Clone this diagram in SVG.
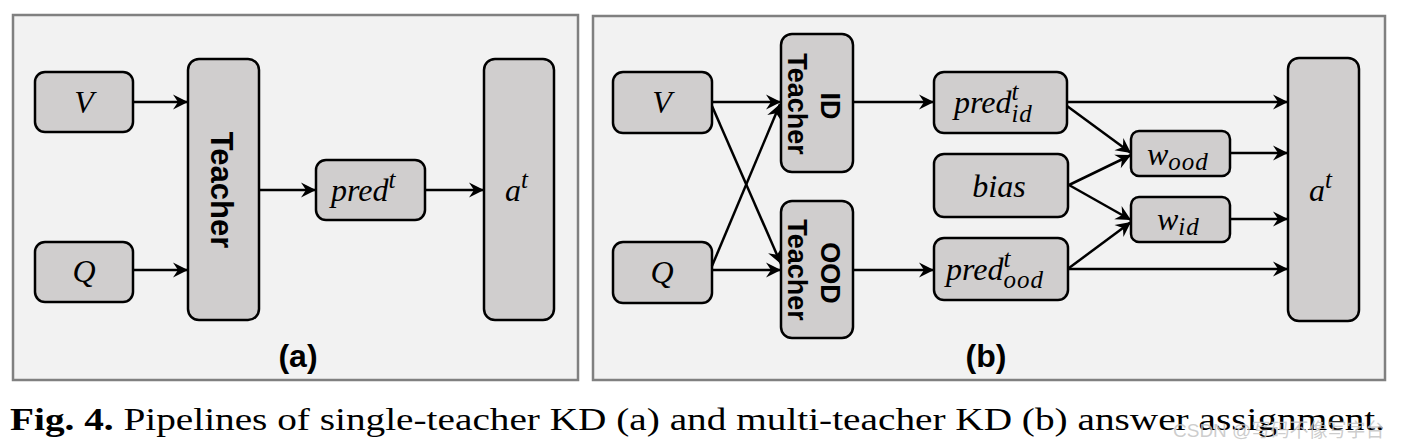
<svg xmlns="http://www.w3.org/2000/svg" width="1401" height="447" viewBox="0 0 1401 447">
<style>
.panel{fill:#f2f2f2;stroke:#808080;stroke-width:2.5}
.node{fill:#d0cece;stroke:#000;stroke-width:2.5}
.math{font-family:"Liberation Serif",serif;font-style:italic;font-size:32px;fill:#000}
.sub{font-size:25px;letter-spacing:1px}
.tl{font-family:"Liberation Sans",Arial,sans-serif;font-weight:bold;fill:#000;text-anchor:middle}
.edge{stroke:#000;stroke-width:2.5;fill:none;marker-end:url(#ah)}
.cap{font-family:"Liberation Serif",serif;font-size:32px;fill:#000}
</style>
<defs>
<marker id="ah" viewBox="-16 -8 18 16" refX="0" refY="0" markerWidth="18" markerHeight="16" orient="auto" markerUnits="userSpaceOnUse">
<path d="M0,0 L-15,-7.5 L-10,0 L-15,7.5 Z" fill="#000"/>
</marker>
</defs>
<rect width="1401" height="447" fill="#fff"/>

<g id="panel-a">
<rect class="panel" x="13" y="15" width="565" height="365"/>
<text class="tl" x="298" y="367" font-size="32">(a)</text>
</g>
<g id="panel-b">
<rect class="panel" x="593" y="16" width="792" height="364"/>
<text class="tl" x="986" y="367" font-size="32">(b)</text>
</g>

<g id="a-V"><rect class="node" x="35" y="72" width="98" height="60" rx="10"/><text class="math" x="84" y="113" text-anchor="middle">V</text></g>
<g id="a-Q"><rect class="node" x="35" y="242" width="98" height="60" rx="10"/><text class="math" x="84" y="282" text-anchor="middle">Q</text></g>
<g id="a-teacher"><rect class="node" x="188" y="59" width="71" height="261" rx="11"/><text class="tl" font-size="31" transform="translate(211,190) rotate(90)">Teacher</text></g>
<g id="a-pred"><rect class="node" x="316" y="160" width="109" height="60" rx="10"/><text class="math" x="331" y="201">pred<tspan class="sub" dy="-13">t</tspan></text></g>
<g id="a-at"><rect class="node" x="484" y="59" width="70" height="261" rx="11"/><text class="math" x="505" y="201">a<tspan class="sub" dy="-13">t</tspan></text></g>

<g id="b-V"><rect class="node" x="613" y="72" width="99" height="61" rx="10"/><text class="math" x="662" y="113" text-anchor="middle">V</text></g>
<g id="b-Q"><rect class="node" x="613" y="242" width="99" height="61" rx="10"/><text class="math" x="662" y="283" text-anchor="middle">Q</text></g>
<g id="b-id-teacher"><rect class="node" x="781" y="34" width="72" height="138" rx="11"/>
<text class="tl" font-size="27" transform="translate(821,106) rotate(90)">ID</text>
<text class="tl" font-size="27" transform="translate(788,104) rotate(90)">Teacher</text></g>
<g id="b-ood-teacher"><rect class="node" x="781" y="201" width="72" height="137" rx="11"/>
<text class="tl" font-size="27" transform="translate(821,273) rotate(90)">OOD</text>
<text class="tl" font-size="27" transform="translate(788,270) rotate(90)">Teacher</text></g>
<g id="b-pred-id"><rect class="node" x="934" y="72" width="133" height="61" rx="10"/><text class="math" x="954" y="113">pred<tspan class="sub" dy="-13">t</tspan><tspan class="sub" dx="-8" dy="22">id</tspan></text></g>
<g id="b-bias"><rect class="node" x="934" y="154" width="134" height="63" rx="10"/><text class="math" x="999" y="197" text-anchor="middle">bias</text></g>
<g id="b-pred-ood"><rect class="node" x="934" y="238" width="134" height="62" rx="10"/><text class="math" x="946" y="280">pred<tspan class="sub" dy="-13">t</tspan><tspan class="sub" dx="-8" dy="21">ood</tspan></text></g>
<g id="b-wood"><rect class="node" x="1131" y="131" width="99" height="45" rx="8"/><text class="math" x="1147" y="165">w<tspan class="sub" dy="5">ood</tspan></text></g>
<g id="b-wid"><rect class="node" x="1131" y="197" width="99" height="45" rx="8"/><text class="math" x="1157" y="230">w<tspan class="sub" dy="5">id</tspan></text></g>
<g id="b-at"><rect class="node" x="1288" y="58" width="71" height="263" rx="11"/><text class="math" x="1309" y="201">a<tspan class="sub" dy="-13">t</tspan></text></g>

<g id="connectors">
<line class="edge" x1="133" y1="102" x2="188" y2="102"/>
<line class="edge" x1="133" y1="270" x2="188" y2="270"/>
<line class="edge" x1="259" y1="190" x2="316" y2="190"/>
<line class="edge" x1="425" y1="190" x2="484" y2="190"/>

<line class="edge" x1="712" y1="102" x2="781" y2="102"/>
<line class="edge" x1="712" y1="270" x2="781" y2="270"/>
<line class="edge" x1="712" y1="106" x2="781" y2="264"/>
<line class="edge" x1="712" y1="266" x2="780" y2="104"/>
<line class="edge" x1="853" y1="102" x2="934" y2="102"/>
<line class="edge" x1="853" y1="270" x2="934" y2="270"/>
<line class="edge" x1="1067" y1="102" x2="1288" y2="102"/>
<line class="edge" x1="1068" y1="269" x2="1288" y2="269"/>
<line class="edge" x1="1067" y1="106" x2="1131" y2="153"/>
<line class="edge" x1="1069" y1="185" x2="1131" y2="155"/>
<line class="edge" x1="1069" y1="185" x2="1131" y2="220"/>
<line class="edge" x1="1069" y1="268" x2="1131" y2="222"/>
<line class="edge" x1="1230" y1="153" x2="1288" y2="153"/>
<line class="edge" x1="1230" y1="219" x2="1288" y2="219"/>
</g>

<text class="cap" x="10" y="430" textLength="1375" lengthAdjust="spacingAndGlyphs"><tspan font-weight="bold">Fig. 4.</tspan> Pipelines of single-teacher KD (a) and multi-teacher KD (b) answer assignment.</text>
<text x="1173" y="437" font-family="'Liberation Sans','Noto Sans CJK SC',sans-serif" font-size="19" fill="#c4c4c4" fill-opacity="0.85">CSDN @写码不像写字台</text>
</svg>
